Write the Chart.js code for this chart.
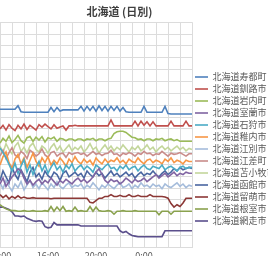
<!DOCTYPE html>
<html>
<head>
<meta charset="utf-8">
<script src="https://cdn.jsdelivr.net/npm/chart.js@4"></script>
<style>
  body { margin: 0; overflow: hidden; background: #fff; }
  #myChart { position: absolute; left: -40px; top: 0; }
</style>
</head>
<body>
<canvas id="myChart" width="330" height="298"></canvas>
<script>
// 時刻 (15分ごと)
var times = [
  '12:00','12:15','12:30','12:45','13:00','13:15','13:30','13:45','14:00','14:15','14:30','14:45','15:00',
  '15:15','15:30','15:45','16:00','16:15','16:30','16:45','17:00','17:15','17:30','17:45','18:00',
  '18:15','18:30','18:45','19:00','19:15','19:30','19:45','20:00','20:15','20:30','20:45','21:00',
  '21:15','21:30','21:45','22:00','22:15','22:30','22:45','23:00','23:15','23:30','23:45','0:00',
  '0:15','0:30','0:45','1:00','1:15','1:30','1:45','2:00','2:15','2:30','2:45','3:00',
  '3:15','3:30','3:45','4:00'
];

var names = [
  '北海道寿都町 寿都', '北海道釧路市 釧路', '北海道岩内町 岩内', '北海道室蘭市 室蘭',
  '北海道石狩市 石狩', '北海道稚内市 稚内', '北海道江別市 江別', '北海道江差町 江差',
  '北海道苫小牧市 苫小牧', '北海道函館市 函館', '北海道留萌市 留萌', '北海道根室市 根室',
  '北海道網走市 網走'
];

var colors = ['#4F81BD','#C0504D','#9BBB59','#8064A2','#4BACC6','#F79646','#A5BCDB',
              '#C98C8A','#C3D69B','#4A66A0','#8C3836','#8AA24E','#5B4F8C'];

var s1 = [23.3,23.3,23.3,23.3,23.3,23.3,23.9,22.9,22.8,22.8,22.8,22.8,22.8,
          22.8,22.8,22.8,22.8,23.6,22.9,23.6,23.0,23.2,23.2,23.2,23.2,23.2,
          23.2,23.8,23.0,23.8,23.1,23.8,23.0,23.9,23.1,23.8,23.0,23.8,23.1,
          23.8,23.0,23.6,22.9,22.8,22.8,22.8,22.8,22.8,23.8,22.8,22.8,22.8,
          22.8,22.8,22.8,23.8,22.6,22.5,22.5,22.5,22.5,22.5,22.5,22.5,22.5];
var s2 = [20.0,20.6,19.8,20.7,20.1,19.7,20.6,20.0,20.8,19.9,20.6,20.2,19.8,
          20.7,20.3,20.8,20.4,20.0,20.7,20.1,20.3,20.5,19.8,20.5,20.5,20.6,
          20.5,20.5,20.5,20.5,20.5,20.5,20.5,20.5,20.5,20.5,20.5,21.5,20.5,
          20.5,20.5,20.5,20.5,20.5,20.5,21.3,20.5,21.3,20.6,21.2,20.5,21.2,
          20.5,20.5,20.5,20.5,20.5,21.3,20.5,20.5,20.5,20.5,21.3,20.5,20.5];
var s3 = [17.6,18.4,17.9,18.8,17.7,18.2,18.9,18.0,17.6,18.5,18.7,17.9,18.6,
          18.1,18.7,17.8,18.5,18.3,18.6,17.9,18.4,18.3,18.0,18.3,18.3,18.0,
          18.3,18.3,18.0,18.3,18.2,18.4,18.0,18.3,18.3,18.0,18.3,18.4,19.2,
          19.5,19.6,19.6,19.4,19.0,18.6,18.5,18.2,18.3,18.0,18.3,18.3,18.0,
          18.3,18.2,18.4,18.0,18.2,18.3,18.0,18.2,17.9,17.9,17.9,17.9,17.9];
var s4 = [10.7,11.7,10.3,11.1,11.9,12.5,13.3,12.9,11.7,10.7,11.3,10.5,11.1,
          11.5,10.7,11.3,10.9,11.7,11.1,10.5,11.3,10.9,11.5,11.1,10.7,11.3,
          11.7,11.1,11.5,10.9,11.3,11.9,12.7,13.3,12.3,11.3,10.9,11.5,11.1,
          11.3,10.7,11.1,11.7,11.3,10.9,11.5,11.1,11.3,11.7,11.1,11.5,11.9,
          12.3,11.7,12.1,12.5,11.9,12.3,12.7,12.1,12.5,12.3,12.7,12.5,12.5];
var s5 = [16.8,16.0,15.1,14.0,12.9,14.2,12.5,13.7,14.8,12.7,13.9,12.3,13.5,
          14.5,12.9,13.9,12.5,13.5,14.3,13.1,13.7,12.7,13.9,13.3,14.1,12.9,
          13.5,13.9,13.1,13.7,13.3,12.7,13.9,13.5,13.1,13.7,14.1,13.3,13.5,
          12.9,13.7,13.3,13.9,13.1,13.5,13.7,12.9,13.5,13.9,13.3,13.1,13.7,
          13.5,13.3,13.9,13.1,13.5,13.7,13.3,12.9,13.5,13.7,13.3,13.5,13.5];
var s6 = [13.9,15.3,16.1,14.3,13.3,14.9,15.7,14.1,15.1,13.5,14.7,15.9,14.5,
          13.7,15.1,14.3,15.3,13.9,14.7,14.1,15.1,14.5,13.7,14.9,14.3,15.3,
          14.5,14.1,14.9,14.3,14.7,13.9,15.1,14.5,14.1,14.9,14.3,14.7,14.5,
          15.1,14.3,14.7,14.1,14.9,14.5,14.3,15.1,14.5,14.1,14.7,14.9,14.3,
          14.7,14.5,14.1,14.9,14.5,15.1,14.3,14.7,14.5,14.1,14.7,14.5,14.5];
var s7 = [10.9,9.9,11.3,10.3,9.5,10.7,10.1,11.1,9.7,10.5,11.3,10.1,10.7,
          9.9,10.9,10.3,9.7,10.7,10.1,11.1,10.3,9.9,10.5,10.9,10.1,10.5,
          10.3,10.7,9.9,10.5,10.1,10.9,10.3,9.7,10.5,10.1,10.7,10.3,9.9,
          10.5,10.9,10.1,10.3,10.7,9.9,10.5,10.1,10.9,10.3,10.5,10.1,10.7,
          10.3,10.5,9.9,10.7,10.3,10.1,10.5,10.9,10.3,10.7,10.1,10.5,10.3];
var s8 = [15.4,16.4,15.0,16.0,16.8,15.6,15.2,16.2,15.8,15.0,16.4,16.0,15.4,
          15.8,16.6,15.6,15.2,16.0,16.2,15.4,15.8,15.9,15.2,16.0,15.7,15.9,
          16.0,15.7,15.9,15.4,15.8,16.2,15.7,15.9,15.5,15.8,15.9,16.4,15.7,
          15.8,15.4,15.9,15.7,16.0,15.8,15.4,15.9,15.7,16.2,15.8,15.9,15.5,
          15.8,15.7,16.2,15.8,15.4,15.9,15.7,15.8,16.0,15.7,15.4,15.8,15.8];
var s9 = [17.1,16.0,17.5,16.5,15.8,17.1,17.7,16.2,16.9,15.9,17.1,17.6,16.5,
          16.1,17.1,16.7,15.9,16.9,17.5,16.4,17.1,16.1,16.7,17.3,16.3,16.9,
          16.5,17.1,16.1,16.7,17.5,16.5,16.9,15.9,16.7,17.3,16.5,17.1,16.3,
          16.9,16.5,17.3,16.7,16.1,16.9,16.5,17.1,16.3,16.7,17.3,16.5,16.9,
          16.1,16.7,17.1,16.5,16.9,16.3,16.7,17.1,16.5,16.9,16.3,16.7,16.5];
var s10 = [11.3,12.9,11.9,10.9,13.5,12.3,11.5,13.1,12.1,11.1,12.7,13.5,11.9,
           12.5,11.5,12.9,12.1,11.7,12.7,12.3,11.3,12.5,12.9,11.9,12.3,12.7,
           12.1,12.5,11.7,12.9,12.3,11.9,12.7,12.1,12.5,11.7,12.3,12.9,12.1,
           12.5,11.9,12.3,12.7,12.1,12.5,11.7,12.3,12.7,12.1,12.5,12.3,12.9,
           12.3,11.9,12.5,12.9,12.3,12.7,13.3,12.9,13.5,13.1,13.3,13.5,13.3];
var s11 = [8.9,8.4,8.8,8.2,8.6,8.3,8.7,8.3,8.5,8.3,8.3,8.4,8.3,
           8.3,8.3,8.3,8.3,8.2,8.3,8.3,8.3,8.3,8.3,8.3,8.3,8.3,
           8.3,8.3,8.3,8.3,7.6,7.5,7.9,8.3,8.3,8.6,8.6,8.9,8.6,
           8.6,8.8,8.6,8.6,8.9,8.6,8.6,8.8,8.6,8.6,8.6,8.9,8.6,
           8.6,8.6,8.6,8.5,8.3,7.4,6.8,7.2,6.9,7.5,8.3,8.3,8.3];
var s12 = [7.2,6.8,6.5,6.3,6.2,6.2,6.1,6.1,6.2,6.1,6.1,6.2,6.1,
           6.1,6.1,6.2,6.1,6.9,6.1,6.8,6.2,6.9,6.1,6.2,6.1,6.8,
           6.1,6.2,6.1,6.1,6.9,6.1,6.8,6.2,6.1,6.1,6.2,6.1,5.6,
           6.1,6.1,6.2,6.1,6.1,6.1,6.2,6.1,6.1,6.1,6.1,6.1,6.1,
           6.1,5.5,6.1,6.1,6.1,5.6,6.1,6.1,6.1,6.1,6.1,6.1,6.1];
var s13 = [6.8,6.8,6.6,6.4,6.0,5.3,5.3,5.2,5.3,4.9,4.7,4.5,4.4,
           4.5,4.4,3.5,3.3,3.4,4.2,3.8,3.8,3.8,3.8,3.8,3.8,3.8,
           3.8,3.6,3.6,3.6,3.6,3.6,3.6,3.6,3.6,3.6,3.6,3.6,3.6,
           3.6,2.8,2.5,2.7,2.3,2.0,1.9,1.8,1.8,1.8,1.8,1.8,1.8,
           1.8,1.8,1.8,2.8,2.8,2.8,2.8,2.8,2.8,2.8,2.8,2.8,2.8];

var series = [s1,s2,s3,s4,s5,s6,s7,s8,s9,s10,s11,s12,s13];

Chart.defaults.font.family = "'Noto Sans CJK JP', sans-serif";

var datasets = series.map(function(d, i){
  return {
    label: names[i],
    data: d,
    borderColor: colors[i],
    backgroundColor: colors[i],
    borderWidth: 1.6,
    pointRadius: 0,
    tension: 0,
    fill: false
  };
});

var ctx = document.getElementById('myChart');
var myChart = new Chart(ctx, {
  type: 'line',
  data: { labels: times, datasets: datasets },
  options: {
    responsive: false,
    animation: false,
    layout: { padding: 0 },
    plugins: {
      title: {
        display: true,
        // 全角スペースで中央を少し左へ
        text: '北海道 (日別)\u3000',
        color: '#404040',
        font: { size: 11, weight: 'bold' },
        padding: { top: 5, bottom: 4 }
      },
      legend: {
        position: 'right',
        maxWidth: 98,
        labels: {
          usePointStyle: true,
          pointStyle: 'line',
          pointStyleWidth: 13,
          padding: 3,
          color: '#595959',
          font: { size: 9 }
        }
      },
      tooltip: { enabled: false }
    },
    scales: {
      x: {
        grid: {
          drawTicks: false,
          color: function(c){ return c.index % 4 === 0 ? '#dcdcdc' : 'rgba(0,0,0,0)'; }
        },
        border: { color: '#dcdcdc' },
        ticks: {
          autoSkip: false,
          maxRotation: 0,
          padding: 3,
          color: '#595959',
          font: { size: 9 },
          callback: function(v, i){ return (i % 16 === 0 && i < 64) ? times[i] : ''; }
        },
        title: { display: true, text: '時刻', padding: { top: 0, bottom: 23 }, font: { size: 9 }, color: '#595959' }
      },
      y: {
        min: 0,
        max: 38,
        grid: { drawTicks: false, color: '#dcdcdc' },
        border: { color: '#dcdcdc' },
        ticks: { display: false, stepSize: 2 },
        afterFit: function(s){ s.width = 40; }
      }
    }
  }
});
</script>
</body>
</html>
